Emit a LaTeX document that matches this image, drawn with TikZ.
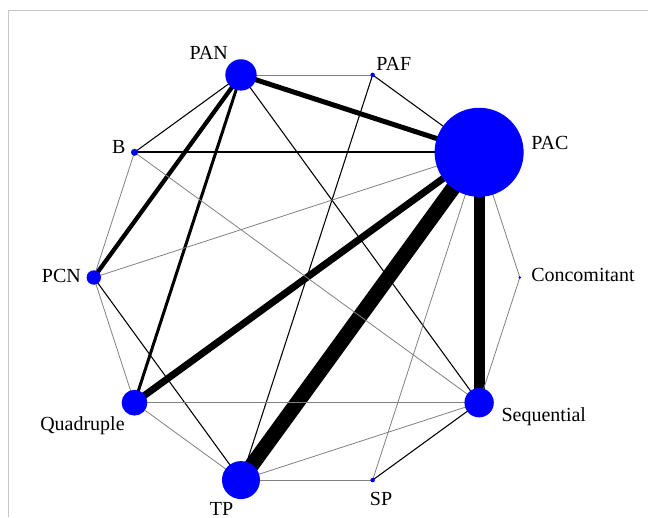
\documentclass[tikz,border=0pt]{standalone}
\usepackage{fontspec}
\setmainfont{Liberation Serif}
\usepackage{tikz}
\usetikzlibrary{backgrounds,calc}

\begin{document}
\begin{tikzpicture}[
    x=0.75pt, y=0.75pt,
    trt/.style={circle, fill=blue, inner sep=0pt, minimum size=#1},
    lab/.style={font=\fontsize{15}{18}\selectfont, inner sep=0pt},
    gedge/.style={draw=black!50, line width=0.6pt},
    bedge/.style={draw=black, line width=#1}
]
    \useasboundingbox (0,0) rectangle (648,517);
    \draw [black!22, line width=0.75pt] (648,506) -- (8.5,506) -- (8.5,0);

    % treatments on a circle
    \coordinate (ctr) at (306.8,239.5);
    \node [trt=66.8pt] (PAC) at ($(ctr)+(36:213)$) {};
    \node [trt=3.4pt]  (PAF) at ($(ctr)+(72:213)$) {};
    \node [trt=23.5pt] (PAN) at ($(ctr)+(108:213)$) {};
    \node [trt=5.3pt]  (B)   at ($(ctr)+(144:213)$) {};
    \node [trt=10.8pt] (PCN) at ($(ctr)+(180:213)$) {};
    \node [trt=19.3pt] (Quad) at ($(ctr)+(216:213)$) {};
    \node [trt=28.5pt] (TP)  at ($(ctr)+(252:213)$) {};
    \node [trt=3.4pt]  (SP)  at ($(ctr)+(288:213)$) {};
    \node [trt=22pt]   (Seq) at ($(ctr)+(324:213)$) {};
    \node [trt=2pt]    (Conc) at ($(ctr)+(0:213)$) {};

    \begin{scope}[on background layer]
        \draw [bedge=11.25pt] (PAC.center) -- (TP.center);
        \draw [bedge=8.25pt] (PAC.center) -- (Seq.center);
        \draw [bedge=5.25pt] (PAC.center) -- (Quad.center);
        \draw [bedge=3.75pt] (PAN.center) -- (PAC.center);
        \draw [bedge=3.2pt] (PAN.center) -- (PCN.center);
        \draw [bedge=2.25pt] (PAN.center) -- (Quad.center);
        \draw [bedge=1.35pt] (B.center) -- (PAC.center);
        \draw [bedge=0.8pt] (PAN.center) -- (B.center);
        \draw [bedge=0.8pt] (PAN.center) -- (Seq.center);
        \draw [bedge=0.8pt] (PAF.center) -- (PAC.center);
        \draw [bedge=0.8pt] (PAF.center) -- (TP.center);
        \draw [bedge=0.8pt] (PCN.center) -- (TP.center);
        \draw [bedge=0.8pt] (SP.center) -- (Seq.center);
        \draw [gedge] (PAN.center) -- (PAF.center);
        \draw [gedge] (B.center) -- (PCN.center);
        \draw [gedge] (B.center) -- (Seq.center);
        \draw [gedge] (PAC.center) -- (PCN.center);
        \draw [gedge] (PAC.center) -- (Conc.center);
        \draw [gedge] (PAC.center) -- (SP.center);
        \draw [gedge] (Conc.center) -- (Seq.center);
        \draw [gedge] (PCN.center) -- (Quad.center);
        \draw [gedge] (Quad.center) -- (Seq.center);
        \draw [gedge] (Quad.center) -- (TP.center);
        \draw [gedge] (TP.center) -- (SP.center);
        \draw [gedge] (TP.center) -- (Seq.center);
    \end{scope}

    % labels
    \node [lab, anchor=base] (PAN-lab) at (208.7,457.7) {PAN};
    \node [lab, anchor=base west] (PAF-lab) at (376,446.3) {PAF};
    \node [lab, anchor=base west] (PAC-lab) at (531,367) {PAC};
    \node [lab, anchor=base] (B-lab) at (118.7,363.7) {B};
    \node [lab, anchor=base west] (Conc-lab) at (531,235) {Concomitant};
    \node [lab, anchor=base west] (PCN-lab) at (41.7,234) {PCN};
    \node [lab, anchor=base west] (Quad-lab) at (40,87) {Quadruple};
    \node [lab, anchor=base west] (Seq-lab) at (501.3,96) {Sequential};
    \node [lab, anchor=base] (TP-lab) at (221.5,2) {TP};
    \node [lab, anchor=base] (SP-lab) at (381,11.5) {SP};
\end{tikzpicture}
\end{document}
